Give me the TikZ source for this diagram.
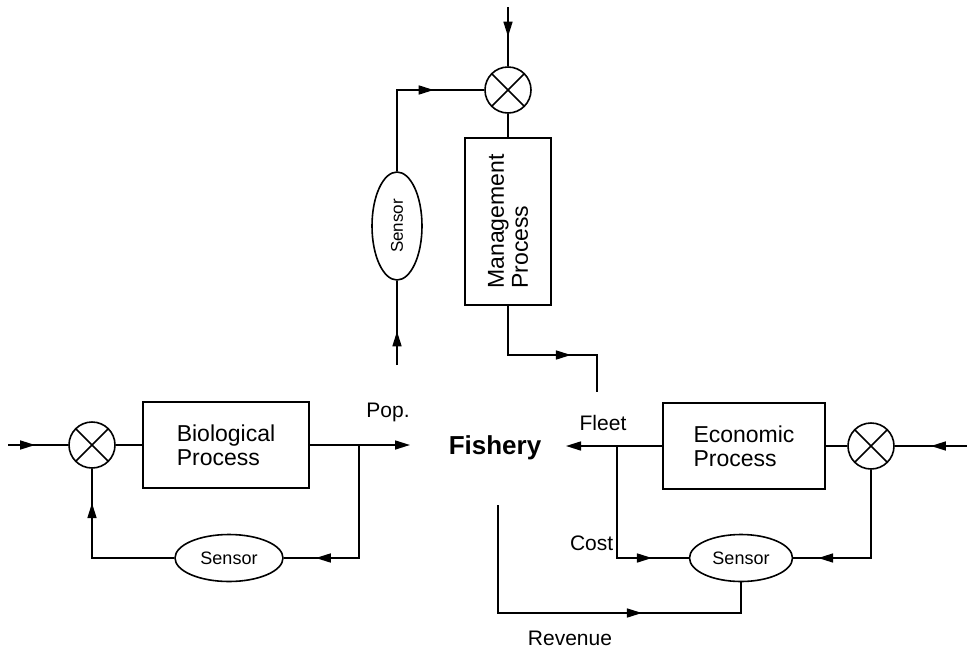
\documentclass[tikz,border=0pt]{standalone}
\usepackage{fontspec}
\setmainfont{Liberation Sans}
\usetikzlibrary{arrows.meta,shapes.geometric,decorations.markings}
\begin{document}
\begin{tikzpicture}[
  x=1pt, y=-1pt,
  line width=1.6pt,
  >={Triangle[length=15pt,width=9pt]},
  arrowat/.style={postaction={decorate}, decoration={markings, mark=at position #1 with {\arrow{Triangle[length=15pt,width=9pt]}}}},
  procbox/.style={draw, rectangle, align=left, inner sep=2pt, font=\fontsize{23}{24}\selectfont},
  sensor/.style={draw, ellipse, inner sep=0pt, font=\fontsize{18}{20}\selectfont},
  mult/.style={draw, circle, minimum size=46pt, inner sep=0pt,
    path picture={\draw (path picture bounding box.north west) -- (path picture bounding box.south east)
                        (path picture bounding box.north east) -- (path picture bounding box.south west);}},
  lbl/.style={font=\fontsize{21}{23}\selectfont, inner sep=0pt}
]
\useasboundingbox (0,0) rectangle (967,654);

\node[mult] (mm) at (508,90) {};
\node[procbox, rotate=90, minimum width=167pt, minimum height=86pt] (mg) at (508,221.5) {Management\\Process};
\node[sensor, rotate=90, minimum width=108pt, minimum height=50pt, font=\fontsize{17}{19}\selectfont] (vs) at (397,226) {Sensor};
\coordinate (topin) at (508,7);
\coordinate (popin) at (397,365);
\coordinate (mgout) at (597,355);
\coordinate (mgend) at (597,392);

\node[mult] (bm) at (92,445) {};
\node[procbox, minimum width=166pt, minimum height=86pt] (bp) at (226,445) {Biological\\Process};
\node[sensor, minimum width=108pt, minimum height=47pt] (bs) at (229,558) {Sensor};
\coordinate (bin) at (8,445);
\coordinate (pop) at (410,445);
\coordinate (bbr) at (359,445);

\node[font=\fontsize{26}{28}\selectfont\bfseries] (fish) at (495,448) {Fishery};

\node[mult] (em) at (871,446) {};
\node[procbox, minimum width=162pt, minimum height=86pt] (ep) at (744,446) {Economic\\Process};
\node[sensor, minimum width=103pt, minimum height=47pt] (es) at (741,558) {Sensor};
\coordinate (ein) at (967,446);
\coordinate (fleet) at (566,446);
\coordinate (ebr) at (617,446);
\coordinate (rev) at (498,505);
\coordinate (revlow) at (498,613);

\node[lbl] (poplbl) at (388,412) {Pop.};
\node[lbl] (fleetlbl) at (603,423) {Fleet};
\node[lbl, anchor=east] (costlbl) at (614,543) {Cost};
\node[lbl] (revlbl) at (570,638) {Revenue};

\draw[arrowat=0.5] (topin) -- (mm.north);
\draw[arrowat=0.7] (vs.east) |- (mm.west);
\draw (mm.south) -- (mg.east);
\draw[arrowat=0.4] (popin) -- (vs.west);
\draw[arrowat=0.64] (mg.west) |- (mgout) -- (mgend);

\draw[arrowat=0.45] (bin) -- (bm.west);
\draw (bm.east) -- (bp.west);
\draw[->] (bp.east |- bin) -- (pop);
\draw[arrowat=0.83] (bbr) |- (bs.east);
\draw[arrowat=0.8] (bs.west) -| (bm.south);

\draw[arrowat=0.5] (ein) -- (em.east);
\draw (em.west) -- (ep.east);
\draw[->] (ep.west) -- (fleet);
\draw[arrowat=0.8] (ebr) |- (es.west);
\draw[arrowat=0.85] (em.south) |- (es.east);
\draw[arrowat=0.66] (rev) -- (revlow) -| (es.south);
\end{tikzpicture}
\end{document}
